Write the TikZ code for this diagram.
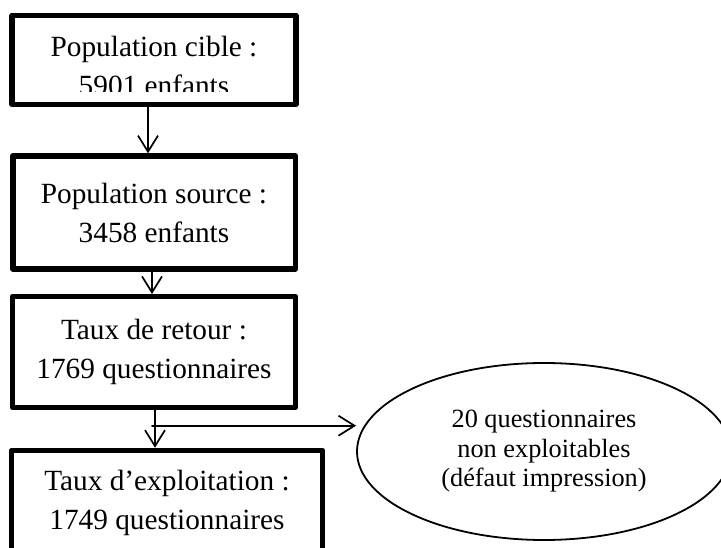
\documentclass[tikz,border=0pt]{standalone}
\usepackage{fontspec}
\setmainfont{Liberation Serif}
\usetikzlibrary{arrows.meta,shapes.geometric}

\begin{document}
\begin{tikzpicture}[line cap=round,line join=round,>={Straight Barb[length=16pt,width=20pt]},x=1pt,y=-1pt,
    box/.style={draw, line width=5.5pt, inner sep=0pt, align=center, font=\fontsize{29.3pt}{39pt}\selectfont},
    txt/.style={inner sep=0pt, align=center, font=\fontsize{29.3pt}{39pt}\selectfont},
    bulle/.style={ellipse, draw, line width=1.8pt, inner sep=0pt, align=center, font=\fontsize{26.3pt}{29.5pt}\selectfont},
    fl/.style={->, line width=1.7pt}]
    \useasboundingbox (0,0) rectangle (721,548);
    \clip (0,0) rectangle (721,548);

    % premier cadre, texte coupe en bas
    \begin{scope}
        \clip (15,18) rectangle (293,91.7);
        \node[txt] (t1) at (154,66.4) {Population cible :\\5901 enfants};
    \end{scope}
    \node[box, minimum width=284pt, minimum height=89pt] (cible) at (154,60) {};

    \node[box, minimum width=282.5pt, minimum height=113pt] (source) at (154,212.5) {Population source :\\3458 enfants};
    \node[box, minimum width=283pt, minimum height=110.5pt] (retour) at (154,352) {Taux de retour :\\1769 questionnaires};
    \node[box, minimum width=311pt, minimum height=105.4pt] (exploit) at (167,503.2) {Taux d’exploitation :\\1749 questionnaires};

    \node[bulle, minimum width=374pt, minimum height=177pt] (nonexp) at (544,451.5) {20 questionnaires\\non exploitables\\(défaut impression)};

    \draw[fl] ([xshift=-6pt]cible.south) -- ([xshift=-6pt]cible.south |- source.north);
    \draw[fl] ([xshift=-2pt]source.south) -- ([xshift=-2pt]source.south |- retour.north);
    \draw[fl] ([xshift=1pt]retour.south) -- ([xshift=1pt]retour.south |- exploit.north);

    \coordinate (split) at (152,425.7);
    \draw[fl] (split) -- (split -| nonexp.west);
\end{tikzpicture}
\end{document}
